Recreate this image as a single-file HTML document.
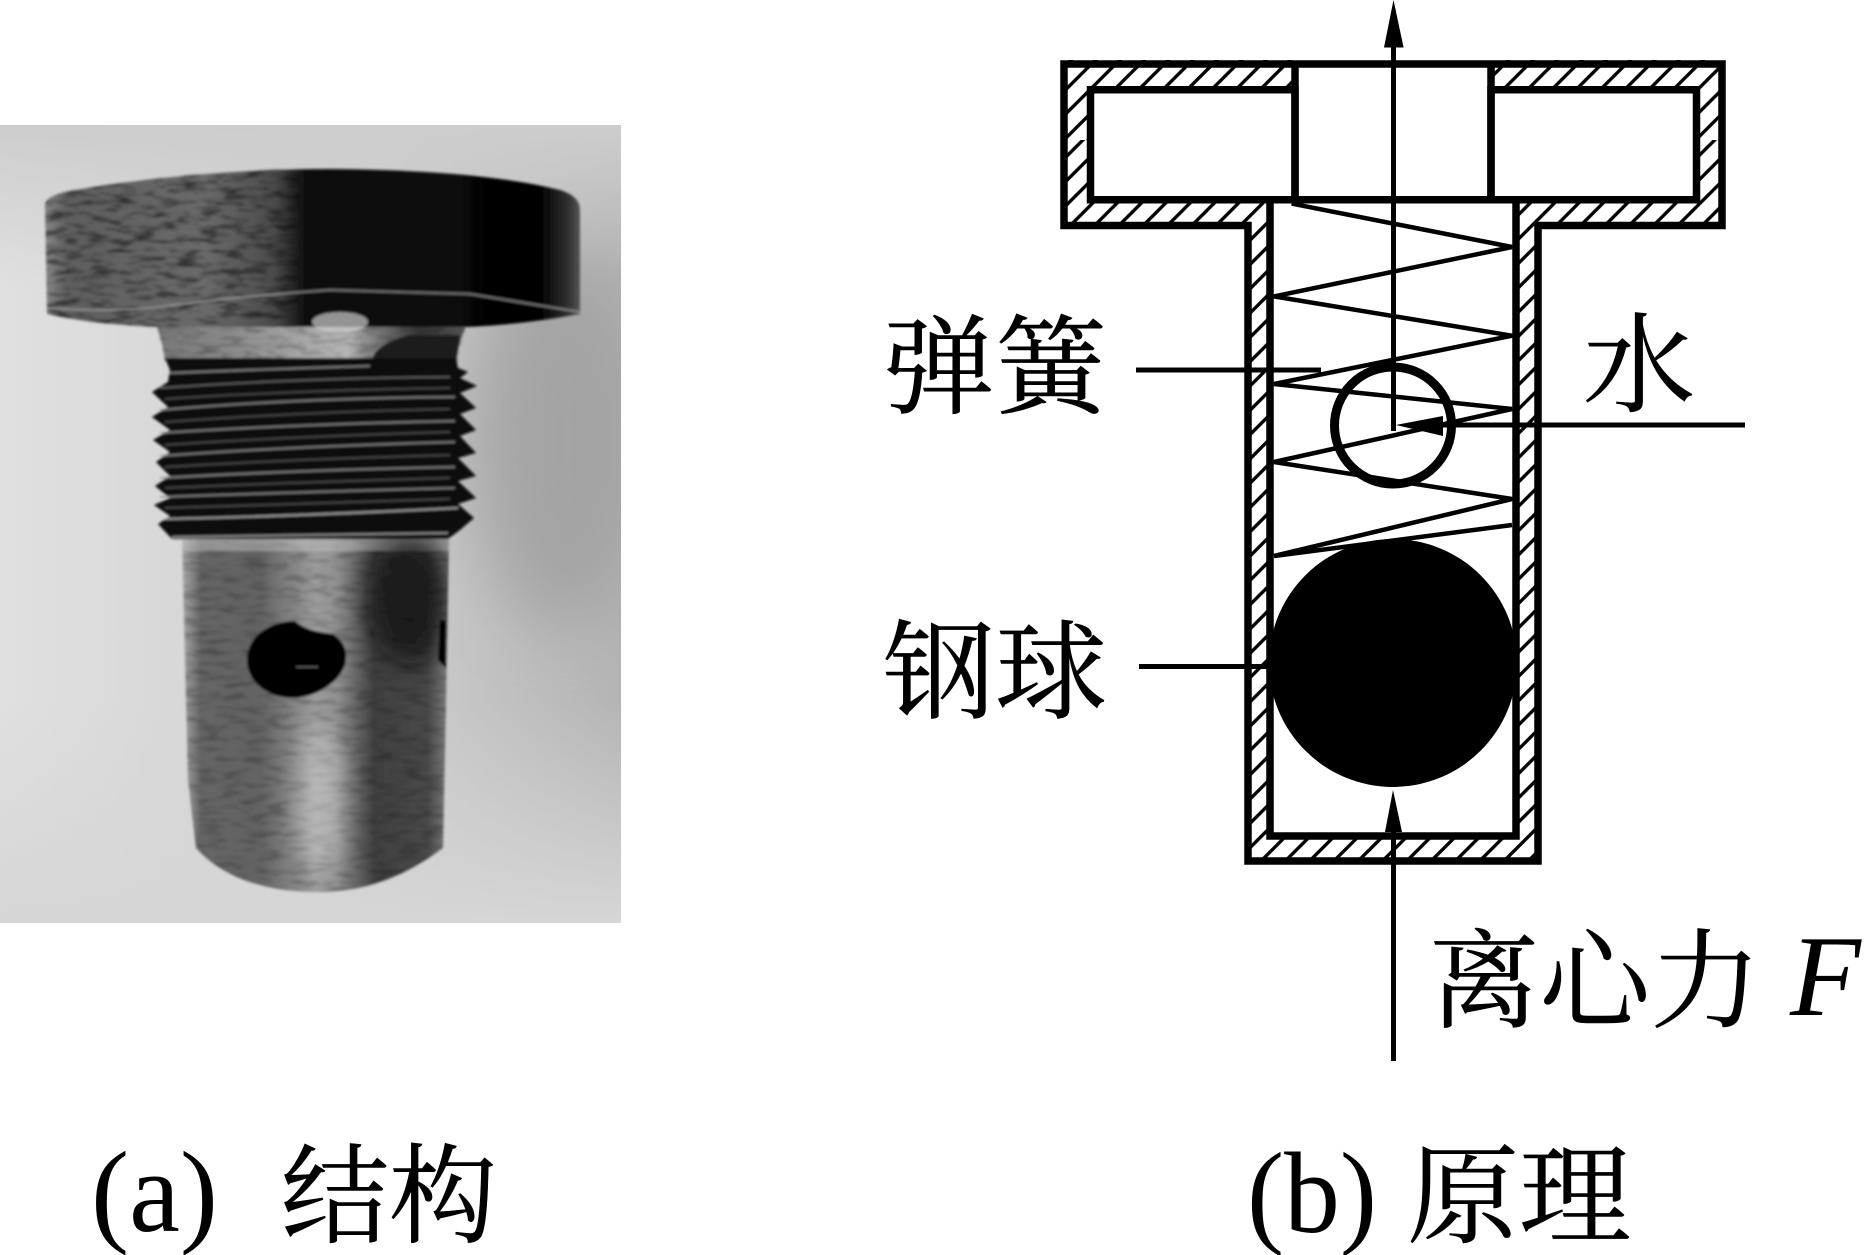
<!DOCTYPE html>
<html lang="zh">
<head>
<meta charset="utf-8">
<title>结构与原理</title>
<style>
html,body{margin:0;padding:0;background:#fff;}
svg{display:block;}
.cn{font-family:"Liberation Serif","Noto Serif CJK SC",serif;font-size:108px;fill:#000;stroke:#000;stroke-width:.6px;}
.en{font-family:"Liberation Serif",serif;font-size:116px;fill:#000;}
</style>
</head>
<body>
<svg width="1870" height="1255" viewBox="0 0 1870 1255" xmlns="http://www.w3.org/2000/svg">
<defs>
  <clipPath id="photo"><rect x="0" y="125" width="621" height="798"/></clipPath>
  <clipPath id="bodyClip"><path d="M182 537 L449 537 L446 700 L443 848 C400 880 360 892 318 892 C270 892 225 880 196 848 L188 780 Z"/></clipPath>
  <linearGradient id="bg1" x1="0" y1="0" x2="1" y2="0">
    <stop offset="0" stop-color="#e0e0e0"/><stop offset=".6" stop-color="#cfcfcf"/><stop offset="1" stop-color="#b4b4b4"/>
  </linearGradient>
  <linearGradient id="bgTop" x1="0" y1="0" x2="0" y2="1">
    <stop offset="0" stop-color="#cdcdcd" stop-opacity="1"/><stop offset=".2" stop-color="#cdcdcd" stop-opacity="0"/>
    <stop offset=".72" stop-color="#d6d6d6" stop-opacity="0"/><stop offset="1" stop-color="#d6d6d6" stop-opacity="1"/>
  </linearGradient>
  <linearGradient id="head" x1="45" y1="0" x2="580" y2="0" gradientUnits="userSpaceOnUse">
    <stop offset="0" stop-color="#888"/><stop offset=".04" stop-color="#5e5e5e"/><stop offset=".3" stop-color="#6a6a6a"/>
    <stop offset=".43" stop-color="#4a4a4a"/><stop offset=".49" stop-color="#0a0a0a"/><stop offset=".93" stop-color="#050505"/>
    <stop offset=".98" stop-color="#333"/><stop offset="1" stop-color="#555"/>
  </linearGradient>
  <linearGradient id="neck" x1="155" y1="0" x2="465" y2="0" gradientUnits="userSpaceOnUse">
    <stop offset="0" stop-color="#777"/><stop offset=".25" stop-color="#8a8a8a"/><stop offset=".5" stop-color="#aaa"/>
    <stop offset=".62" stop-color="#b5b5b5"/><stop offset=".72" stop-color="#777"/><stop offset=".85" stop-color="#333"/><stop offset="1" stop-color="#555"/>
  </linearGradient>
  <linearGradient id="body" x1="182" y1="0" x2="449" y2="0" gradientUnits="userSpaceOnUse">
    <stop offset="0" stop-color="#aaa"/><stop offset=".07" stop-color="#656565"/><stop offset=".3" stop-color="#646464"/>
    <stop offset=".5" stop-color="#9c9c9c"/><stop offset=".58" stop-color="#909090"/><stop offset=".72" stop-color="#404040"/>
    <stop offset=".92" stop-color="#484848"/><stop offset="1" stop-color="#808080"/>
  </linearGradient>
  <filter id="soft" x="-5%" y="-5%" width="110%" height="110%"><feGaussianBlur stdDeviation="1.3"/></filter>
  <filter id="soft8" x="-40%" y="-40%" width="180%" height="180%"><feGaussianBlur stdDeviation="12"/></filter>
  <filter id="soft4" x="-30%" y="-30%" width="160%" height="160%"><feGaussianBlur stdDeviation="35"/></filter>
  <filter id="grain" x="0" y="0" width="100%" height="100%">
    <feTurbulence type="fractalNoise" baseFrequency="0.045 0.16" numOctaves="3" seed="7" result="n"/>
    <feColorMatrix in="n" type="matrix" values="0 0 0 0 0  0 0 0 0 0  0 0 0 0 0  3 0 0 0 -1.35"/>
    <feComposite in2="SourceAlpha" operator="in"/>
  </filter>
  <pattern id="h1" width="24.3" height="24.3" patternUnits="userSpaceOnUse" patternTransform="translate(7.9 0)">
    <path d="M-6 6 L6 -6 M-6 30.3 L30.3 -6 M18.3 30.3 L30.3 18.3" stroke="#000" stroke-width="3.4" fill="none"/>
  </pattern>
  <pattern id="h2" width="24.3" height="24.3" patternUnits="userSpaceOnUse" patternTransform="translate(13.3 0)">
    <path d="M-6 6 L6 -6 M-6 30.3 L30.3 -6 M18.3 30.3 L30.3 18.3" stroke="#000" stroke-width="3.4" fill="none"/>
  </pattern>
</defs>

<!-- photo -->
<g clip-path="url(#photo)">
  <rect x="0" y="125" width="621" height="798" fill="url(#bg1)"/>
  <rect x="0" y="125" width="621" height="798" fill="url(#bgTop)"/>
  <ellipse cx="560" cy="440" rx="90" ry="190" fill="#9c9c9c" opacity=".75" filter="url(#soft4)"/>
  <g filter="url(#soft)">
    <!-- lower body -->
    <path d="M182 537 L449 537 L446 700 L443 848 C400 880 360 892 318 892 C270 892 225 880 196 848 L188 780 Z" fill="url(#body)"/>
    <path d="M182 537 L449 537 L446 700 L443 848 C400 880 360 892 318 892 C270 892 225 880 196 848 L188 780 Z" fill="#000" filter="url(#grain)" opacity=".22"/>
    <g clip-path="url(#bodyClip)">
      <rect x="182" y="537" width="270" height="14" fill="#c5c5c5" opacity=".5"/>
      <ellipse cx="410" cy="600" rx="42" ry="65" fill="#0c0c0c" opacity=".7" filter="url(#soft8)"/>
      <ellipse cx="320" cy="800" rx="22" ry="75" fill="#d0d0d0" opacity=".55" filter="url(#soft8)"/>
    </g>
    <path d="M440 620 L446 620 L446 668 L438 660 Z" fill="#000"/>
    <!-- hole -->
    <path d="M247 660 C247 635 272 621 295 621 C305 630 318 632 333 634 C345 642 348 652 345 665 C338 685 312 698 293 698 C268 698 247 682 247 660 Z" fill="#000"/>
    <path d="M296 667 H318" stroke="#666" stroke-width="1.5"/>
    <!-- neck -->
    <path d="M155 322 C160 335 163 345 165 362 L456 362 C458 345 462 335 468 322 Z" fill="url(#neck)"/>
    <path d="M155 322 L468 322 L458 362 L165 362 Z" fill="#000" filter="url(#grain)" opacity=".25"/>
    <path d="M372 362 Q372 345 410 335 L460 335 L456 362 Z" fill="#1a1a1a"/>
    <!-- thread -->
    <path d="M165 358 L456 358 L458 368 L468 372 L460 378 L477 386 L460 393 L476 408 L460 414 L476 430 L460 436 L476 453 L458 458 L476 476 L458 481 L476 498 L458 504 L474 518 L460 530 L448 539 L172 539 L158 524 L170 516 L154 505 L170 498 L155 486 L170 476 L156 462 L170 452 L153 440 L170 430 L152 417 L168 407 L152 392 L168 382 L170 370 Z" fill="#0c0c0c"/>
    <g stroke="#8c8c8c" stroke-width="1.8" fill="none" opacity=".9">
      <path d="M170 373 Q300 368 370 366"/>
      <path d="M160 388 Q300 378 450 377" stroke="#666"/>
      <path d="M160 410 Q300 398 455 397"/>
      <path d="M160 433 Q300 424 455 421"/>
      <path d="M160 456 Q300 446 455 442"/>
      <path d="M160 478 Q300 470 455 467"/>
      <path d="M160 497 Q300 492 455 488"/>
      <path d="M165 519 Q300 516 458 508" stroke="#b0b0b0"/>
      <path d="M172 537 L448 533" stroke="#a0a0a0"/>
    </g>
    <g stroke="#444" stroke-width="2" fill="none">
      <path d="M165 399 Q300 390 450 388"/>
      <path d="M165 422 Q300 412 450 409"/>
      <path d="M165 445 Q300 436 450 432"/>
      <path d="M165 467 Q300 459 450 455"/>
      <path d="M165 488 Q300 482 450 478"/>
      <path d="M165 508 Q300 504 450 499"/>
    </g>
    <!-- head -->
    <path d="M45 205 Q45 195 75 190 Q200 169 330 169 Q480 170 560 190 Q580 196 580 210 L580 314 Q520 325 465 327 L155 327 Q90 324 47 314 Z" fill="url(#head)"/>
    <path d="M45 205 Q45 195 75 190 Q200 169 300 169 L300 320 L155 327 Q90 324 47 314 Z" fill="#000" filter="url(#grain)" opacity=".5"/>
    <path d="M47 308 Q100 312 150 308 Q240 296 330 290 L470 294 L580 312" fill="none" stroke="#a0a0a0" stroke-width="2" opacity=".7"/>
    <ellipse cx="340" cy="322" rx="28" ry="10" fill="#cfcfcf" opacity=".7"/>
  </g>
</g>

<!-- T body hatch -->
<path d="M1061 60 H1725 V229 H1537 V861 H1249 V229 H1061 Z" fill="#fff"/>
<path d="M1061 60 H1725 V140 H1061 Z" fill="url(#h2)"/>
<path d="M1061 140 H1725 V229 H1537 V861 H1249 V229 H1061 Z" fill="url(#h1)"/>

<!-- interior whites -->
<rect x="1090" y="89" width="607" height="111" fill="#fff"/>
<rect x="1295" y="60" width="196" height="140" fill="#fff"/>
<rect x="1270" y="200" width="246" height="636" fill="#fff"/>

<!-- outlines -->
<path d="M1064 64 H1722 V225.500 H1538 V861 H1248 V225.500 H1064 Z" fill="none" stroke="#000" stroke-width="7.500"/>
<path d="M1090.500 89.800 H1295 V199.800 H1090.500 Z" fill="none" stroke="#000" stroke-width="7.500"/>
<path d="M1491 89.800 H1696.500 V199.800 H1491 Z" fill="none" stroke="#000" stroke-width="7.500"/>
<path d="M1295 64 V200 M1491 64 V200 M1270 200 V836 H1516 V200 M1295 199.800 H1491" fill="none" stroke="#000" stroke-width="7.500"/>

<!-- spring -->
<polyline points="1291.600,203.600 1512,247 1274,296.400 1512,335.700 1274,384 1512,409 1274,462 1512,499 1274,556 1512,525" fill="none" stroke="#000" stroke-width="4.500" stroke-linejoin="miter"/>

<!-- small ball -->
<circle cx="1393" cy="425.500" r="58.500" fill="none" stroke="#000" stroke-width="9"/>
<!-- steel ball -->
<circle cx="1393" cy="663" r="124" fill="#000"/>

<!-- arrows -->
<rect x="1391" y="40" width="5" height="391" fill="#000"/>
<polygon points="1393.500,0 1384,47.500 1403.600,47.500" fill="#000"/>
<rect x="1391" y="810" width="5" height="251" fill="#000"/>
<polygon points="1393,790 1385,832 1402,832" fill="#000"/>
<rect x="1440" y="422.500" width="305" height="5" fill="#000"/>
<polygon points="1396,425 1443,416 1443,436" fill="#000"/>

<!-- leaders -->
<rect x="1136" y="367.500" width="185" height="5" fill="#000"/>
<rect x="1139" y="664" width="128" height="5" fill="#000"/>

<!-- labels -->
<text class="cn" x="883" y="405" textLength="224" lengthAdjust="spacingAndGlyphs">弹簧</text>
<text class="cn" x="1583" y="403" textLength="112" lengthAdjust="spacingAndGlyphs">水</text>
<text class="cn" x="883" y="710" textLength="224" lengthAdjust="spacingAndGlyphs">钢球</text>
<text class="cn" x="1429" y="1019" textLength="332" lengthAdjust="spacingAndGlyphs">离心力</text>
<text class="en" x="1790" y="1015" font-style="italic">F</text>
<text class="en" x="91" y="1231" textLength="127" lengthAdjust="spacingAndGlyphs">(a)</text>
<text class="cn" x="281" y="1234">结构</text>
<text class="en" x="1247" y="1232" textLength="130" lengthAdjust="spacingAndGlyphs">(b)</text>
<text class="cn" x="1407" y="1234" textLength="224" lengthAdjust="spacingAndGlyphs">原理</text>
</svg>
</body>
</html>
